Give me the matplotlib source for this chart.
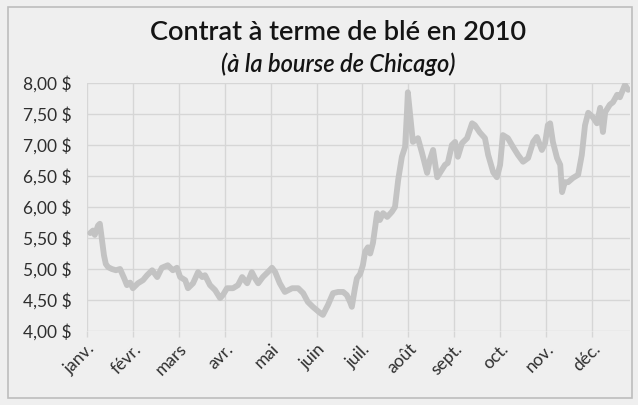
import matplotlib
matplotlib.use("Agg")
import matplotlib.pyplot as plt
from matplotlib.patches import Rectangle

plt.rcParams['font.family'] = ['Lato', 'DejaVu Sans']

# x position in months since 1 January (0 = janv., 1 = févr., ...)
months = [0.07, 0.13, 0.17, 0.24, 0.28, 0.33, 0.37, 0.41, 0.46, 0.54, 0.63, 0.72, 0.81, 0.87, 0.94,
          1.00, 1.11, 1.22, 1.31, 1.42, 1.53, 1.63, 1.76, 1.87, 1.96,
          2.03, 2.14, 2.20, 2.31, 2.42, 2.51, 2.57, 2.68, 2.79, 2.90, 2.96,
          3.05, 3.18, 3.29, 3.38, 3.49, 3.59, 3.66, 3.73, 3.83, 3.94,
          4.03, 4.10, 4.20, 4.31, 4.47, 4.60, 4.71, 4.81, 4.92,
          5.08, 5.14, 5.25, 5.36, 5.47, 5.58, 5.66, 5.73, 5.77, 5.84, 5.88, 5.95,
          6.01, 6.06, 6.12, 6.17, 6.23, 6.32, 6.38, 6.45, 6.54, 6.64, 6.71, 6.78, 6.86, 6.93, 6.97,
          6.99, 7.06, 7.10, 7.21, 7.30, 7.41, 7.47, 7.54, 7.63, 7.69, 7.80, 7.86, 7.95,
          8.02, 8.08, 8.17, 8.28, 8.39, 8.45, 8.56, 8.67, 8.74, 8.85, 8.93,
          9.00, 9.06, 9.17, 9.28, 9.39, 9.50, 9.61, 9.72, 9.80, 9.91, 9.98,
          10.04, 10.09, 10.15, 10.24, 10.31, 10.35, 10.41, 10.48, 10.59, 10.70, 10.78, 10.85, 10.92,
          11.02, 11.11, 11.18, 11.24, 11.29, 11.39, 11.46, 11.55, 11.61, 11.72, 11.79]

prices = [5.58, 5.62, 5.55, 5.70, 5.73, 5.45, 5.22, 5.08, 5.03, 5.00, 4.98, 5.00, 4.85, 4.74, 4.78,
          4.69, 4.77, 4.82, 4.90, 4.98, 4.87, 5.02, 5.06, 4.98, 5.02,
          4.87, 4.82, 4.69, 4.77, 4.95, 4.87, 4.90, 4.74, 4.66, 4.53, 4.58,
          4.69, 4.69, 4.74, 4.87, 4.77, 4.95, 4.85, 4.77, 4.87, 4.95,
          5.02, 4.95, 4.77, 4.63, 4.69, 4.69, 4.61, 4.47, 4.39,
          4.29, 4.26, 4.42, 4.61, 4.63, 4.63, 4.58, 4.47, 4.39, 4.70, 4.85, 4.92,
          5.06, 5.28, 5.35, 5.25, 5.42, 5.90, 5.79, 5.90, 5.84, 5.92, 6.00, 6.44, 6.81, 6.97, 7.52,
          7.85, 7.35, 7.05, 7.11, 6.87, 6.55, 6.76, 6.92, 6.48, 6.55, 6.68, 6.71, 7.00,
          7.05, 6.81, 7.03, 7.11, 7.35, 7.32, 7.20, 7.11, 6.84, 6.56, 6.48,
          6.68, 7.16, 7.11, 6.97, 6.84, 6.73, 6.79, 7.05, 7.13, 6.92, 7.03,
          7.32, 7.35, 7.05, 6.79, 6.68, 6.24, 6.40, 6.40, 6.47, 6.52, 6.84, 7.32, 7.52,
          7.45, 7.35, 7.60, 7.21, 7.53, 7.65, 7.69, 7.81, 7.77, 7.97, 7.89]

month_labels = ['janv.', 'févr.', 'mars', 'avr.', 'mai', 'juin', 'juil.',
                'août', 'sept.', 'oct.', 'nov.', 'déc.']
y_ticks = [4.0, 4.5, 5.0, 5.5, 6.0, 6.5, 7.0, 7.5, 8.0]

title = 'Contrat à terme de blé en 2010'
subtitle = '(à la bourse de Chicago)'

bg = '#efefef'
txt = '#2e2e2e'
fig = plt.figure(figsize=(6.38, 4.05), dpi=100, facecolor=bg)
ax = fig.add_axes([87/638, 1 - 331/405, (630 - 87)/638, (331 - 83)/405])
ax.set_facecolor(bg)

# chart border
fig.patches.append(Rectangle((8/638, 7/405), (632 - 8)/638, (398 - 7)/405,
                             transform=fig.transFigure, fill=False,
                             edgecolor='#bdbdbd', linewidth=1.2))

ax.plot(months, prices, color='#c3c3c3', linewidth=4.2, solid_joinstyle='round',
        solid_capstyle='round', zorder=3)

ax.set_xlim(0, 11.83)
ax.set_ylim(4.0, 8.0)
ax.set_xticks(range(len(month_labels)))
ax.set_xticklabels(month_labels, rotation=45, ha='right', va='top',
                   rotation_mode='anchor', fontsize=12.5, color=txt)
ax.set_yticks(y_ticks)
ax.set_yticklabels([f'{v:.2f} $'.replace('.', ',') for v in y_ticks],
                   fontsize=12.5, color=txt)

ax.grid(True, color='#d6d6d6', linewidth=1.0, zorder=0)
for s in ax.spines.values():
    s.set_visible(False)
ax.tick_params(axis='x', length=4, width=1.0, color='#d6d6d6', pad=3)
ax.tick_params(axis='y', length=0, pad=11)

fig.text(338/638, 1 - 32/405, title, ha='center', va='center', fontsize=19.5,
         fontweight='semibold', color='#141414')
fig.text(338/638, 1 - 64/405, subtitle, ha='center', va='center', fontsize=17,
         style='italic', fontweight='semibold', color='#141414')

fig.savefig('out.png', dpi=100, facecolor=bg)
